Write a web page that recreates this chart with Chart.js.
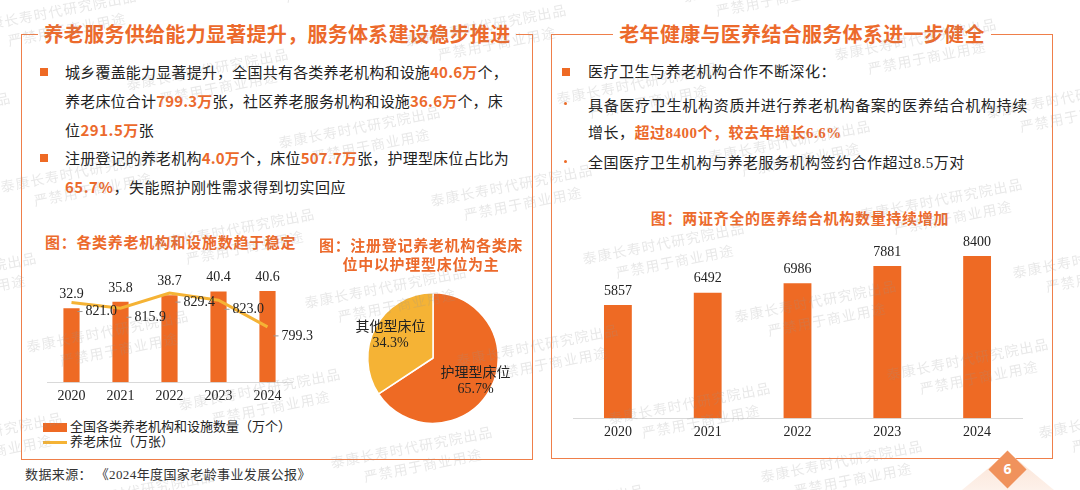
<!DOCTYPE html>
<html lang="zh-CN">
<head>
<meta charset="UTF-8">
<title>养老服务与医养结合</title>
<script src="https://cdn.jsdelivr.net/npm/chart.js"></script>
<style>
  html, body { margin: 0; padding: 0; }
  body {
    width: 1080px; height: 490px; position: relative; overflow: hidden; background: #fff;
    font-family: "Liberation Serif", "Noto Sans CJK SC", serif; color: #222;
  }
  .frame { position: absolute; border: 1.5px solid #EF7F4A; box-sizing: border-box; }
  .frame-title { position: absolute; top: -14px; left: 0; right: 0; text-align: center; line-height: 26px; }
  .frame-title span {
    background: #fff; padding: 0 6px; font-family: "Noto Sans CJK SC"; font-weight: 700;
    font-size: 20px; color: #EC6A2C; letter-spacing: 0.3px;
  }
  .line { position: absolute; font-size: 15px; line-height: 20px; letter-spacing: 0.5px; white-space: nowrap; }
  .o { color: #EC6A2C; font-weight: 700; }
  .os { font-family: "Noto Sans CJK SC"; }
  .sq { position: absolute; width: 8px; height: 8px; background: #EE6A24; }
  .dot { position: absolute; width: 3px; height: 3px; border-radius: 50%; background: #EE6A24; }
  .ctitle {
    position: absolute; font-family: "Noto Sans CJK SC"; font-weight: 700; font-size: 15px;
    color: #EC6A2C; letter-spacing: 0.7px; line-height: 18.5px; text-align: center; white-space: nowrap;
  }
  .box { position: absolute; }
  .legend-text { position: absolute; font-size: 13px; line-height: 20px; white-space: nowrap; }
  .source { position: absolute; left: 25px; top: 465px; font-size: 13px; line-height: 20px; color: #333; letter-spacing: 0.4px; }
  .wm-layer { position: absolute; left: 0; top: 0; width: 1080px; height: 490px; pointer-events: none; z-index: 10; }
  .wm {
    position: absolute; width: 170px; font-size: 14px; line-height: 20px; letter-spacing: 1px;
    color: rgba(150, 150, 150, 0.22); transform: rotate(-11deg); transform-origin: 80px 12px; white-space: nowrap;
  }
  .wm div + div { margin-left: 30px; }
  .tri {
    position: absolute; left: 962px; top: 452px; width: 92px; height: 38px;
    clip-path: polygon(50% 0, 100% 100%, 0 100%);
    background: linear-gradient(#fbe2d3, #fdf1ea);
  }
  .diamond {
    position: absolute; left: 994px; top: 456px; width: 27px; height: 27px;
    background: #F0925C; transform: rotate(45deg);
  }
  .pageno {
    position: absolute; left: 994px; top: 459px; width: 27px; text-align: center;
    font-family: "Noto Sans", sans-serif; font-weight: 700; font-size: 14px; line-height: 20px; color: #fff;
  }
</style>
</head>
<body>

  <!-- 左侧面板 -->
  <div class="frame" style="left:21px; top:34px; width:512px; height:426px;">
    <div class="frame-title"><span>养老服务供给能力显著提升，服务体系建设稳步推进</span></div>
  </div>

  <div class="sq" style="left:40px; top:68px;"></div>
  <div class="line fit" data-w="443" style="left:65px; top:62px;">城乡覆盖能力显著提升，全国共有各类养老机构和设施<span class="o os">40.6万</span>个，</div>
  <div class="line fit" data-w="438" style="left:65px; top:91px;">养老床位合计<span class="o os">799.3万</span>张，社区养老服务机构和设施<span class="o os">36.6万</span>个，床</div>
  <div class="line" style="left:65px; top:120px;">位<span class="o os">291.5万</span>张</div>
  <div class="sq" style="left:40px; top:154px;"></div>
  <div class="line fit" data-w="444" style="left:65px; top:148px;">注册登记的养老机构<span class="o os">4.0万</span>个，床位<span class="o os">507.7万</span>张，护理型床位占比为</div>
  <div class="line" style="left:65px; top:177px;"><span class="o os">65.7%</span>，失能照护刚性需求得到切实回应</div>

  <div class="ctitle" style="left:45px; top:233px;">图：各类养老机构和设施数趋于稳定</div>
  <div class="box" style="left:40px; top:255px; width:285px; height:156px;"><canvas id="comboChart"></canvas></div>

  <div class="box" style="left:43px; top:423px; width:24px; height:9px; background:#EE6A24;"></div>
  <div class="legend-text" style="left:70px; top:417px;">全国各类养老机构和设施数量（万个）</div>
  <div class="box" style="left:43px; top:441px; width:24px; height:3px; background:#F5B335;"></div>
  <div class="legend-text" style="left:70px; top:432px;">养老床位（万张）</div>

  <div class="ctitle" style="left:301px; top:236px; width:240px;">图：注册登记养老机构各类床<br>位中以护理型床位为主</div>
  <div class="box" style="left:343px; top:268px; width:180px; height:180px;"><canvas id="pieChart"></canvas></div>

  <!-- 右侧面板 -->
  <div class="frame" style="left:551px; top:34px; width:502px; height:425px;">
    <div class="frame-title"><span>老年健康与医养结合服务体系进一步健全</span></div>
  </div>

  <div class="sq" style="left:562px; top:68px;"></div>
  <div class="line" style="left:588px; top:62px;">医疗卫生与养老机构合作不断深化：</div>
  <div class="dot" style="left:564px; top:102px;"></div>
  <div class="line fit" data-w="440" style="left:588px; top:96px;">具备医疗卫生机构资质并进行养老机构备案的医养结合机构持续</div>
  <div class="line" style="left:588px; top:123px;">增长，<span class="o">超过8400个，较去年增长6.6%</span></div>
  <div class="dot" style="left:564px; top:160px;"></div>
  <div class="line" style="left:588px; top:153px;">全国医疗卫生机构与养老服务机构签约合作超过8.5万对</div>

  <div class="ctitle" style="left:650px; top:209px; width:300px;">图：两证齐全的医养结合机构数量持续增加</div>
  <div class="box" style="left:565px; top:215px; width:465px; height:232px;"><canvas id="medChart"></canvas></div>

  <div class="source">数据来源：&nbsp;《2024年度国家老龄事业发展公报》</div>

  <div class="tri"></div>
  <div class="diamond"></div>
  <div class="pageno">6</div>

  <div class="wm-layer" id="wmLayer"></div>

<script>
  // 数据
  const years = ['2020', '2021', '2022', '2023', '2024'];
  const facilityCount = [32.9, 35.8, 38.7, 40.4, 40.6];   // 万个
  const bedCount = [821.0, 815.9, 829.4, 823.0, 799.3];   // 万张
  const bedTypes = ['护理型床位', '其他型床位'];
  const bedShare = [65.7, 34.3];                          // %
  const medCareCount = [5857, 6492, 6986, 7881, 8400];    // 个

  const ORANGE = '#EE6A24';
  const GOLD = '#F5B335';
  const LABEL_FONT = "14px 'Liberation Serif', 'Noto Sans CJK SC', serif";

  // 满行文字撑满到给定宽度
  document.querySelectorAll('.line.fit').forEach(function (el) {
    const target = parseFloat(el.dataset.w);
    el.style.letterSpacing = '0px';
    const natural = el.getBoundingClientRect().width;
    const n = el.textContent.length;
    el.style.letterSpacing = ((target - natural) / n) + 'px';
  });

  Chart.defaults.font.family = "'Liberation Serif', 'Noto Sans CJK SC', serif";
  Chart.defaults.color = '#222';
  Chart.defaults.animation = false;

  const xAxis = {
    grid: { display: false, drawTicks: false },
    border: { display: true, color: '#d9d9d9' },
    ticks: { padding: 6, font: { size: 14 }, color: '#222' }
  };

  // 柱状+折线 数值标签
  const comboLabels = {
    id: 'comboLabels',
    afterDatasetsDraw(chart) {
      const ctx = chart.ctx;
      ctx.save();
      ctx.font = LABEL_FONT;
      ctx.fillStyle = '#222';
      ctx.textBaseline = 'middle';
      ctx.textAlign = 'center';
      chart.getDatasetMeta(1).data.forEach(function (el, i) {
        ctx.fillText(facilityCount[i].toFixed(1), el.x, el.y - 14);
      });
      ctx.textAlign = 'left';
      ctx.strokeStyle = '#999';
      ctx.lineWidth = 1;
      chart.getDatasetMeta(0).data.forEach(function (el, i) {
        const y = el.y + 9;
        ctx.beginPath();
        ctx.moveTo(el.x + 6, y);
        ctx.lineTo(el.x + 11, y);
        ctx.stroke();
        ctx.fillText(bedCount[i].toFixed(1), el.x + 14, y);
      });
      ctx.restore();
    }
  };

  new Chart(document.querySelector('#comboChart'), {
    type: 'bar',
    data: {
      labels: years,
      datasets: [
        {
          type: 'line',
          label: '养老床位（万张）',
          data: bedCount,
          yAxisID: 'y1',
          borderColor: GOLD,
          borderWidth: 3,
          pointRadius: 0,
          tension: 0,
          order: 0
        },
        {
          label: '全国各类养老机构和设施数量（万个）',
          data: facilityCount,
          yAxisID: 'y',
          backgroundColor: ORANGE,
          barPercentage: 0.33,
          categoryPercentage: 1,
          order: 1
        }
      ]
    },
    options: {
      responsive: true,
      maintainAspectRatio: false,
      layout: { padding: { left: 7, right: 33, top: 15, bottom: 0 } },
      scales: {
        x: xAxis,
        y: { display: false, min: 0, max: 50 },
        y1: { display: false, min: 750, max: 850 }
      },
      plugins: { legend: { display: false }, tooltip: { enabled: false } }
    },
    plugins: [comboLabels]
  });

  // 饼图标签
  const pieLabels = {
    id: 'pieLabels',
    afterDatasetsDraw(chart) {
      const ctx = chart.ctx;
      ctx.save();
      ctx.font = LABEL_FONT;
      ctx.fillStyle = '#222';
      ctx.textAlign = 'center';
      ctx.textBaseline = 'middle';
      chart.getDatasetMeta(0).data.forEach(function (arc, i) {
        const mid = (arc.startAngle + arc.endAngle) / 2;
        const r = arc.outerRadius * 0.74;
        const x = arc.x + Math.cos(mid) * r;
        const y = arc.y + Math.sin(mid) * r;
        ctx.fillText(bedTypes[i], x, y - 8);
        ctx.fillText(bedShare[i].toFixed(1) + '%', x, y + 8);
      });
      ctx.restore();
    }
  };

  new Chart(document.querySelector('#pieChart'), {
    type: 'pie',
    data: {
      labels: bedTypes,
      datasets: [{
        data: bedShare,
        backgroundColor: [ORANGE, GOLD],
        borderColor: '#fff',
        borderWidth: 1.5
      }]
    },
    options: {
      responsive: true,
      maintainAspectRatio: false,
      layout: { padding: 24 },
      plugins: { legend: { display: false }, tooltip: { enabled: false } }
    },
    plugins: [pieLabels]
  });

  // 医养结合机构柱状图
  const medLabels = {
    id: 'medLabels',
    afterDatasetsDraw(chart) {
      const ctx = chart.ctx;
      ctx.save();
      ctx.font = LABEL_FONT;
      ctx.fillStyle = '#222';
      ctx.textAlign = 'center';
      ctx.textBaseline = 'middle';
      chart.getDatasetMeta(0).data.forEach(function (el, i) {
        ctx.fillText(String(medCareCount[i]), el.x, el.y - 14);
      });
      ctx.restore();
    }
  };

  new Chart(document.querySelector('#medChart'), {
    type: 'bar',
    data: {
      labels: years,
      datasets: [{
        label: '医养结合机构数量',
        data: medCareCount,
        backgroundColor: ORANGE,
        barPercentage: 0.31,
        categoryPercentage: 1
      }]
    },
    options: {
      responsive: true,
      maintainAspectRatio: false,
      layout: { padding: { left: 8, right: 8, top: 10, bottom: 0 } },
      scales: {
        x: xAxis,
        y: { display: false, min: 0, max: 10000 }
      },
      plugins: { legend: { display: false }, tooltip: { enabled: false } }
    },
    plugins: [medLabels]
  });

  // 水印
  const wmLayer = document.getElementById('wmLayer');
  for (let i = -3; i <= 8; i++) {
    for (let j = -3; j <= 4; j++) {
      const cx = 80 + 152 * i + 26 * j;
      const cy = 175 + 58 * i + 160 * j;
      if (cx < -120 || cx > 1200 || cy < -40 || cy > 520) continue;
      const wm = document.createElement('div');
      wm.className = 'wm';
      wm.style.left = (cx - 80) + 'px';
      wm.style.top = (cy - 12) + 'px';
      wm.innerHTML = '<div>泰康长寿时代研究院出品</div><div>严禁用于商业用途</div>';
      wmLayer.appendChild(wm);
    }
  }
</script>
</body>
</html>
